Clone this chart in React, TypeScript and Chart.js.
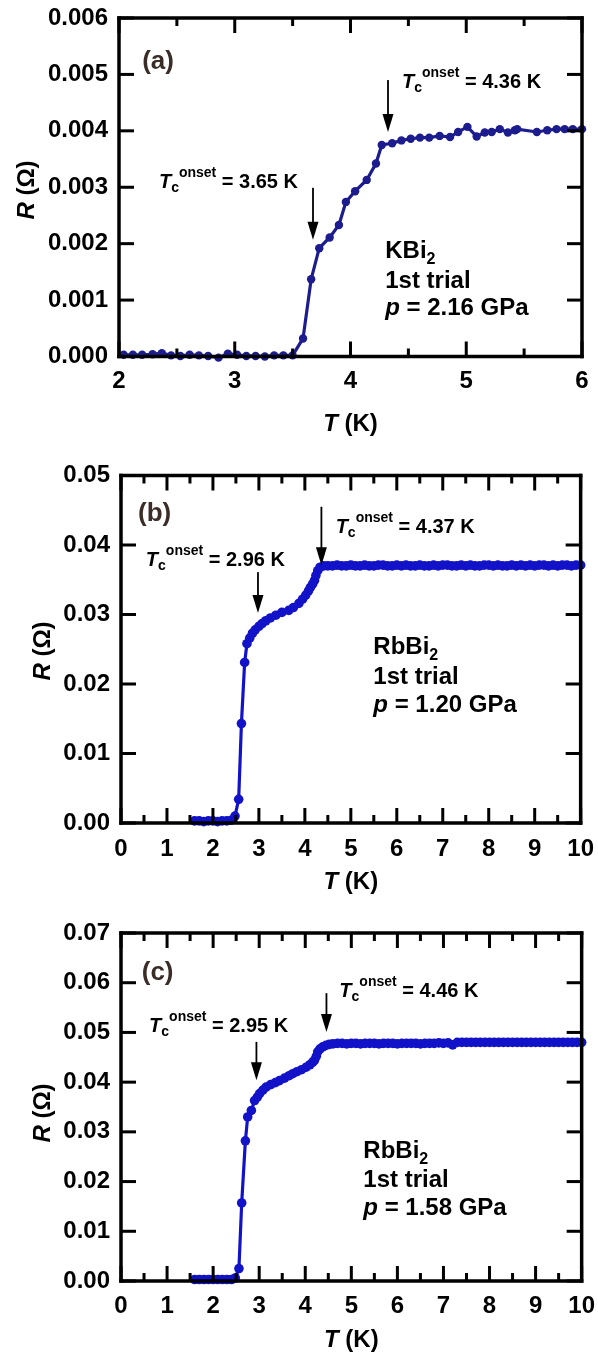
import React, { useEffect, useRef } from 'react';
import { Chart, registerables } from 'chart.js';
Chart.register(...registerables);

const FONT = '"Liberation Sans", Arial, Helvetica, sans-serif';
const W = 598;

// ---------- Panel (a): KBi2, 1st trial, p = 2.16 GPa ----------
const kbiT = [
  2.04, 2.12, 2.20, 2.29, 2.37, 2.45, 2.53, 2.61, 2.69, 2.77,
  2.86, 2.94, 3.02, 3.10, 3.18, 3.26, 3.34, 3.42, 3.50, 3.59,
  3.66, 3.73, 3.82, 3.90, 3.96, 4.04, 4.14, 4.22, 4.27, 4.36,
  4.44, 4.52, 4.60, 4.68, 4.77, 4.86, 4.93, 5.01, 5.09, 5.16,
  5.22, 5.29, 5.36, 5.42, 5.44, 5.61, 5.70, 5.78, 5.85, 5.92, 6.00,
];
const kbiR = [
  0.00003, 0.00003, 0.00003, 0.00004, 0.00006, 0.00002, 0.00001, 0.00003, 0.00002, 0.00001,
  -0.00002, 0.00005, 0.00003, 0.00001, 0.00001, 0.00000, 0.00002, 0.00002, 0.00002, 0.00032,
  0.00137, 0.00192, 0.00211, 0.00233, 0.00274, 0.00293, 0.00313, 0.00342, 0.00375, 0.00378,
  0.00383, 0.00386, 0.00388, 0.00388, 0.00391, 0.00389, 0.00398, 0.00407, 0.00390, 0.00397,
  0.00398, 0.00403, 0.00397, 0.00401, 0.00403, 0.00398, 0.00401, 0.00403, 0.00403, 0.00403, 0.00403,
];

// ---------- Panel (b): RbBi2, 1st trial, p = 1.20 GPa ----------
const rb120T = [
  1.6, 1.7, 1.8, 1.9, 2.0, 2.1, 2.2, 2.3, 2.4, 2.48,
  2.56, 2.62, 2.69, 2.74, 2.80, 2.86, 2.92, 3.00, 3.07, 3.15,
  3.25, 3.37, 3.50, 3.65, 3.75, 3.87, 3.95, 4.02, 4.08, 4.12,
  4.17, 4.21, 4.24, 4.28, 4.33, 4.41,
  4.5, 4.6, 4.7, 4.8, 4.9, 5.0, 5.1, 5.2, 5.3, 5.4,
  5.5, 5.6, 5.7, 5.8, 5.9, 6.0, 6.1, 6.2, 6.3, 6.4,
  6.5, 6.6, 6.7, 6.8, 6.9, 7.0, 7.1, 7.2, 7.3, 7.4,
  7.5, 7.6, 7.7, 7.8, 7.9, 8.0, 8.1, 8.2, 8.3, 8.4,
  8.5, 8.6, 8.7, 8.8, 8.9, 9.0, 9.1, 9.2, 9.3, 9.4,
  9.5, 9.6, 9.7, 9.8, 9.9, 10.0,
];
const rb120R = [
  0.0003, 0.0003, 0.0002, 0.0003, 0.0003, 0.0002, 0.0003, 0.0003, 0.0004, 0.0010,
  0.0034, 0.0143, 0.0231, 0.0258, 0.0266, 0.0273, 0.0278, 0.0283, 0.0287, 0.0291,
  0.0295, 0.0299, 0.0303, 0.0306, 0.0310, 0.0316, 0.0322, 0.0328, 0.0334, 0.0339,
  0.0344, 0.0349, 0.0356, 0.0363, 0.0368, 0.0370,
  0.0370, 0.0370, 0.0371, 0.0370, 0.0370, 0.0371, 0.0370, 0.0370, 0.0371, 0.0370,
  0.0370, 0.0371, 0.0371, 0.0370, 0.0370, 0.0371, 0.0370, 0.0371, 0.0370, 0.0370,
  0.0371, 0.0370, 0.0370, 0.0371, 0.0370, 0.0371, 0.0371, 0.0370, 0.0370, 0.0371,
  0.0370, 0.0371, 0.0370, 0.0370, 0.0371, 0.0371, 0.0370, 0.0371, 0.0370, 0.0370,
  0.0371, 0.0370, 0.0371, 0.0370, 0.0371, 0.0370, 0.0371, 0.0371, 0.0370, 0.0371,
  0.0370, 0.0371, 0.0371, 0.0370, 0.0371, 0.0371,
];

// ---------- Panel (c): RbBi2, 1st trial, p = 1.58 GPa ----------
const rb158T = [
  1.6, 1.7, 1.8, 1.9, 2.0, 2.1, 2.2, 2.3, 2.4, 2.48,
  2.56, 2.62, 2.70, 2.75, 2.83, 2.90, 2.96, 3.01, 3.08, 3.15,
  3.25, 3.35, 3.44, 3.55, 3.65, 3.73, 3.82, 3.92, 4.02, 4.10,
  4.16, 4.20, 4.24, 4.27, 4.32, 4.38, 4.45, 4.52,
  4.6, 4.7, 4.8, 4.9, 5.0, 5.1, 5.2, 5.3, 5.4, 5.5,
  5.6, 5.7, 5.8, 5.9, 6.0, 6.1, 6.2, 6.3, 6.4, 6.5,
  6.6, 6.7, 6.8, 6.9, 7.0, 7.1, 7.2, 7.3, 7.4, 7.5,
  7.6, 7.7, 7.8, 7.9, 8.0, 8.1, 8.2, 8.3, 8.4, 8.5,
  8.6, 8.7, 8.8, 8.9, 9.0, 9.1, 9.2, 9.3, 9.4, 9.5,
  9.6, 9.7, 9.8, 9.9, 10.0,
];
const rb158R = [
  0.0003, 0.0003, 0.0003, 0.0003, 0.0003, 0.0003, 0.0003, 0.0003, 0.0003, 0.0006,
  0.0025, 0.0157, 0.0282, 0.0330, 0.0343, 0.0363, 0.0370, 0.0377, 0.0384, 0.0390,
  0.0395, 0.0399, 0.0403, 0.0408, 0.0413, 0.0417, 0.0421, 0.0425, 0.0430, 0.0435,
  0.0440, 0.0444, 0.0452, 0.0461, 0.0467, 0.0471, 0.0474, 0.0476,
  0.0477, 0.0478, 0.0478, 0.0477, 0.0478, 0.0478, 0.0477, 0.0478, 0.0478, 0.0478,
  0.0477, 0.0478, 0.0478, 0.0478, 0.0477, 0.0478, 0.0478, 0.0478, 0.0478, 0.0477,
  0.0478, 0.0478, 0.0478, 0.0479, 0.0478, 0.0479, 0.0475, 0.0480, 0.0480, 0.0480,
  0.0480, 0.0480, 0.0480, 0.0480, 0.0480, 0.0480, 0.0480, 0.0480, 0.0480, 0.0480,
  0.0480, 0.0480, 0.0480, 0.0480, 0.0480, 0.0480, 0.0480, 0.0480, 0.0480, 0.0480,
  0.0480, 0.0480, 0.0480, 0.0480, 0.0480,
];

// ---------- Axis ticks (labelled values) ----------
const xTicksA = [2, 3, 4, 5, 6];
const xTicksBC = [0, 1, 2, 3, 4, 5, 6, 7, 8, 9, 10];
const yTicksA = [0, 0.001, 0.002, 0.003, 0.004, 0.005, 0.006];
const yTicksB = [0, 0.01, 0.02, 0.03, 0.04, 0.05];
const yTicksC = [0, 0.01, 0.02, 0.03, 0.04, 0.05, 0.06, 0.07];

// ---------- Text content ----------
const panelLabels = ['(a)', '(b)', '(c)'];
const compounds = ['KBi', 'RbBi', 'RbBi'];
const pressures = ['2.16 GPa', '1.20 GPa', '1.58 GPa'];
const tcLow = ['3.65 K', '2.96 K', '2.95 K'];
const tcHigh = ['4.36 K', '4.37 K', '4.46 K'];

type Run = { text: string; size: number; bold?: boolean; italic?: boolean; dy?: number };

const fnt = (size: number, bold = true, italic = false) =>
  `${italic ? 'italic ' : ''}${bold ? 'bold ' : ''}${size}px ${FONT}`;

function runsWidth(ctx: CanvasRenderingContext2D, runs: Run[]) {
  let w = 0;
  for (const r of runs) {
    ctx.font = fnt(r.size, r.bold ?? true, r.italic);
    w += ctx.measureText(r.text).width;
  }
  return w;
}

function drawRuns(ctx: CanvasRenderingContext2D, x: number, y: number, runs: Run[]) {
  let cx = x;
  for (const r of runs) {
    ctx.font = fnt(r.size, r.bold ?? true, r.italic);
    ctx.fillText(r.text, cx, y + (r.dy || 0));
    cx += ctx.measureText(r.text).width;
  }
  return cx;
}

const tcRuns = (val: string): Run[] => [
  { text: 'T', size: 20, italic: true },
  { text: 'c', size: 14, dy: 4 },
  { text: 'onset', size: 14, dy: -11 },
  { text: ' = ' + val, size: 20 },
];

type Note = { val: string; at: [number, number]; arrowX: number; arrowFrom: number; arrowTo: number };

type Panel = {
  key: string;
  top: number;
  height: number;
  area: { left: number; right: number; top: number; bottom: number };
  xTicks: number[];
  yTicks: number[];
  dec: number;
  T: number[]; R: number[];
  color: string; radius: number; lineWidth: number;
  xPad: number;
  rTitle: { x: number; y: number };
  tTitleY: number;
  label: string; labelAt: [number, number];
  notes: Note[];
  compound: string; pressure: string;
  infoT: number; infoR: [number, number, number];
};

const PANELS: Panel[] = [
  {
    key: 'a', top: 0, height: 445,
    area: { left: 119, right: 582, top: 18, bottom: 356.5 },
    xTicks: xTicksA, yTicks: yTicksA, dec: 3,
    T: kbiT, R: kbiR, color: '#1c1c8e', radius: 4.2, lineWidth: 3.2,
    xPad: 2, rTitle: { x: 25, y: 190 }, tTitleY: 422,
    label: panelLabels[0], labelAt: [2.2, 0.0051],
    notes: [
      { val: tcLow[0], at: [2.345, 0.00299], arrowX: 3.676, arrowFrom: 0.00299, arrowTo: 0.00207 },
      { val: tcHigh[0], at: [4.445, 0.00476], arrowX: 4.324, arrowFrom: 0.0049, arrowTo: 0.00398 },
    ],
    compound: compounds[0], pressure: pressures[0],
    infoT: 4.30, infoR: [0.00174, 0.00121, 0.00073],
  },
  {
    key: 'b', top: 445, height: 455,
    area: { left: 121, right: 584, top: 30.5, bottom: 378 },
    xTicks: xTicksBC, yTicks: yTicksB, dec: 2,
    T: rb120T, R: rb120R, color: '#1212c8', radius: 4.8, lineWidth: 3.2,
    xPad: 4, rTitle: { x: 41, y: 206 }, tTitleY: 435,
    label: panelLabels[1], labelAt: [0.37, 0.0435],
    notes: [
      { val: tcLow[1], at: [0.54, 0.0370], arrowX: 2.98, arrowFrom: 0.0361, arrowTo: 0.0302 },
      { val: tcHigh[1], at: [4.67, 0.0417], arrowX: 4.36, arrowFrom: 0.0455, arrowTo: 0.0371 },
    ],
    compound: compounds[1], pressure: pressures[1],
    infoT: 5.49, infoR: [0.0243, 0.0200, 0.0160],
  },
  {
    key: 'c', top: 900, height: 455,
    area: { left: 121, right: 583, top: 33, bottom: 381 },
    xTicks: xTicksBC, yTicks: yTicksC, dec: 2,
    T: rb158T, R: rb158R, color: '#1212c8', radius: 4.8, lineWidth: 3.2,
    xPad: 3, rTitle: { x: 41, y: 213 }, tTitleY: 438,
    label: panelLabels[2], labelAt: [0.45, 0.0606],
    notes: [
      { val: tcLow[2], at: [0.61, 0.0501], arrowX: 2.94, arrowFrom: 0.0481, arrowTo: 0.0404 },
      { val: tcHigh[2], at: [4.74, 0.0571], arrowX: 4.46, arrowFrom: 0.0579, arrowTo: 0.0501 },
    ],
    compound: compounds[2], pressure: pressures[2],
    infoT: 5.26, infoR: [0.0247, 0.0189, 0.0133],
  },
];

function makeChart(canvas: HTMLCanvasElement, p: Panel) {
  const decor = {
    id: 'decor' + p.key,
    afterDraw(chart: any) {
      const ctx: CanvasRenderingContext2D = chart.ctx;
      const a = chart.chartArea;
      const xs = chart.scales.x;
      const ys = chart.scales.y;
      const X = (v: number) => xs.getPixelForValue(v);
      const Y = (v: number) => ys.getPixelForValue(v);

      // ---- frame and inward ticks ----
      ctx.save();
      ctx.fillStyle = '#000000';
      const fw = 3.5;
      const hw = fw / 2;
      ctx.fillRect(a.left - hw, a.top - hw, a.right - a.left + fw, fw);
      ctx.fillRect(a.left - hw, a.bottom - hw, a.right - a.left + fw, fw);
      ctx.fillRect(a.left - hw, a.top - hw, fw, a.bottom - a.top + fw);
      ctx.fillRect(a.right - hw, a.top - hw, fw, a.bottom - a.top + fw);
      const tw = 3;
      for (let i = 0; i < p.xTicks.length; i++) {
        const px = X(p.xTicks[i]);
        ctx.fillRect(px - tw / 2, a.bottom - 15, tw, 15);
        ctx.fillRect(px - tw / 2, a.top, tw, 15);
        if (i < p.xTicks.length - 1) {
          const pm = X((p.xTicks[i] + p.xTicks[i + 1]) / 2);
          ctx.fillRect(pm - tw / 2, a.bottom - 8, tw, 8);
          ctx.fillRect(pm - tw / 2, a.top, tw, 8);
        }
      }
      for (const v of p.yTicks) {
        const py = Y(v);
        ctx.fillRect(a.left, py - tw / 2, 15, tw);
        ctx.fillRect(a.right - 15, py - tw / 2, 15, tw);
      }
      ctx.restore();

      // ---- texts ----
      ctx.save();
      ctx.textBaseline = 'alphabetic';
      ctx.textAlign = 'left';

      ctx.fillStyle = '#3a2d28';
      drawRuns(ctx, X(p.labelAt[0]), Y(p.labelAt[1]), [{ text: p.label, size: 26 }]);

      ctx.fillStyle = '#000000';
      for (const n of p.notes) {
        drawRuns(ctx, X(n.at[0]), Y(n.at[1]), tcRuns(n.val));
        const ax = X(n.arrowX);
        const y1 = Y(n.arrowFrom);
        const y2 = Y(n.arrowTo);
        ctx.fillRect(ax - 0.9, y1, 1.8, y2 - 14 - y1);
        ctx.beginPath();
        ctx.moveTo(ax, y2);
        ctx.lineTo(ax - 5.5, y2 - 18);
        ctx.lineTo(ax + 5.5, y2 - 18);
        ctx.closePath();
        ctx.fill();
      }

      const ix = X(p.infoT);
      drawRuns(ctx, ix, Y(p.infoR[0]), [
        { text: p.compound, size: 24 },
        { text: '2', size: 16, dy: 6 },
      ]);
      drawRuns(ctx, ix, Y(p.infoR[1]), [{ text: '1st trial', size: 24 }]);
      drawRuns(ctx, ix, Y(p.infoR[2]), [
        { text: 'p', size: 24, italic: true },
        { text: ' = ' + p.pressure, size: 24 },
      ]);

      const tRuns: Run[] = [
        { text: 'T', size: 24, italic: true },
        { text: ' (K)', size: 24 },
      ];
      const twd = runsWidth(ctx, tRuns);
      drawRuns(ctx, (a.left + a.right) / 2 - twd / 2, p.tTitleY + 8.6, tRuns);

      const rRuns: Run[] = [
        { text: 'R', size: 24, italic: true },
        { text: ' (\u03A9)', size: 24 },
      ];
      const rw = runsWidth(ctx, rRuns);
      ctx.translate(p.rTitle.x, p.rTitle.y);
      ctx.rotate(-Math.PI / 2);
      drawRuns(ctx, -rw / 2, 8.6, rRuns);
      ctx.restore();
    },
  };

  const tickFont = { family: FONT, size: 24, weight: 'bold' as const };
  const xt = p.xTicks, yt = p.yTicks;

  return new Chart(canvas, {
    type: 'scatter',
    data: {
      datasets: [
        {
          data: p.T.map((t, i) => ({ x: t, y: p.R[i] })),
          showLine: true,
          borderColor: p.color,
          backgroundColor: p.color,
          borderWidth: p.lineWidth,
          pointRadius: p.radius,
          pointBorderWidth: 0,
          pointHoverRadius: p.radius,
          tension: 0,
          clip: 10,
        },
      ],
    },
    options: {
      responsive: false,
      animation: false,
      devicePixelRatio: 1,
      events: [],
      layout: {
        padding: { left: 0, top: p.area.top, right: W - p.area.right, bottom: 0 },
      },
      plugins: {
        legend: { display: false },
        tooltip: { enabled: false },
      },
      scales: {
        x: {
          type: 'linear',
          min: xt[0],
          max: xt[xt.length - 1],
          grid: { display: false },
          border: { display: false },
          afterBuildTicks: (s: any) => {
            s.ticks = xt.map((v) => ({ value: v }));
          },
          ticks: {
            autoSkip: false,
            maxRotation: 0,
            padding: p.xPad,
            color: '#000',
            font: tickFont,
            callback: (v: any) => String(Math.round(Number(v))),
          },
          afterFit: (s: any) => {
            s.height = p.height - p.area.bottom;
          },
        },
        y: {
          type: 'linear',
          min: yt[0],
          max: yt[yt.length - 1],
          grid: { display: false },
          border: { display: false },
          afterBuildTicks: (s: any) => {
            s.ticks = yt.map((v) => ({ value: v }));
          },
          ticks: {
            autoSkip: false,
            padding: 3,
            color: '#000',
            font: tickFont,
            callback: (v: any) => Number(v).toFixed(p.dec),
          },
          afterFit: (s: any) => {
            s.width = p.area.left;
          },
        },
      },
    },
    plugins: [decor],
  });
}

function PanelCanvas({ p }: { p: Panel }) {
  const ref = useRef<HTMLCanvasElement | null>(null);
  useEffect(() => {
    if (!ref.current) return;
    const chart = makeChart(ref.current, p);
    return () => chart.destroy();
  }, [p]);
  return (
    <canvas
      ref={ref}
      width={W}
      height={p.height}
      style={{ position: 'absolute', left: 0, top: p.top }}
    />
  );
}

export default function App() {
  return (
    <div style={{ position: 'absolute', left: 0, top: 0, width: W, height: 1355, background: '#fff' }}>
      {PANELS.map((p) => (
        <PanelCanvas key={p.key} p={p} />
      ))}
    </div>
  );
}
